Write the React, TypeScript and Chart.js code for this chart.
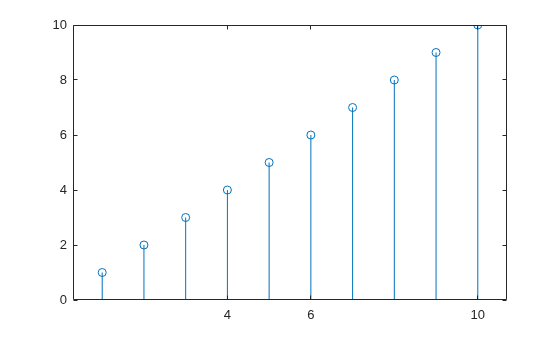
import { useEffect, useRef } from "react";
import { Chart, registerables } from "chart.js";

Chart.register(...registerables);

const xValues = [1, 2, 3, 4, 5, 6, 7, 8, 9, 10];
const yValues = [1, 2, 3, 4, 5, 6, 7, 8, 9, 10];
const xTickValues = [4, 6, 10];
const yTickValues = [0, 2, 4, 6, 8, 10];
const stemBase = 0;

const BLUE = "#0072BD";
const AXIS = "#262626";

const boxPlugin = {
  id: "boxTicks",
  afterDraw(chart: any) {
    const { ctx, chartArea } = chart;
    const xs = chart.scales.x;
    const ys = chart.scales.y;
    const L = Math.round(chartArea.left) + 0.5;
    const R = Math.round(chartArea.right) - 0.5;
    const T = Math.round(chartArea.top) + 0.5;
    const B = Math.round(chartArea.bottom) - 0.5;
    const len = 4;
    ctx.save();
    ctx.strokeStyle = AXIS;
    ctx.lineWidth = 1;
    ctx.beginPath();
    ctx.rect(L, T, R - L, B - T);
    for (const v of yTickValues) {
      const y = Math.floor(ys.getPixelForValue(v)) + 0.5;
      ctx.moveTo(L, y);
      ctx.lineTo(L + len, y);
      ctx.moveTo(R, y);
      ctx.lineTo(R - len, y);
    }
    for (const v of xTickValues) {
      const x = Math.floor(xs.getPixelForValue(v)) + 0.5;
      ctx.moveTo(x, B);
      ctx.lineTo(x, B - len);
      ctx.moveTo(x, T);
      ctx.lineTo(x, T + len);
    }
    ctx.stroke();
    ctx.restore();
  },
};

export default function App() {
  const ref = useRef<HTMLCanvasElement | null>(null);
  useEffect(() => {
    document.body.style.margin = "0";
    const canvas = ref.current;
    if (!canvas) return;
    const stemData: any[] = [];
    xValues.forEach((x, i) => {
      stemData.push({ x, y: stemBase });
      stemData.push({ x, y: yValues[i] });
      stemData.push({ x, y: null });
    });
    const chart = new Chart(canvas, {
      type: "scatter",
      data: {
        datasets: [
          {
            data: stemData,
            showLine: true,
            spanGaps: false,
            borderColor: BLUE,
            borderWidth: 1,
            pointRadius: 0,
            pointHoverRadius: 0,
          } as any,
          {
            data: xValues.map((x, i) => ({ x, y: yValues[i] })),
            showLine: false,
            pointStyle: "circle",
            pointRadius: 4,
            pointBorderWidth: 1,
            pointBorderColor: BLUE,
            pointBackgroundColor: "rgba(0,0,0,0)",
          } as any,
        ],
      },
      options: {
        animation: false,
        responsive: false,
        devicePixelRatio: 1,
        layout: { padding: { top: 25, right: 53, left: 0, bottom: 0 } },
        plugins: { legend: { display: false }, tooltip: { enabled: false } },
        font: { family: "'Liberation Sans', Arial, sans-serif", size: 13 },
        scales: {
          x: {
            type: "linear",
            min: 0.3,
            max: 10.7,
            grid: { display: false, drawTicks: false },
            border: { display: false },
            afterBuildTicks: (scale: any) => {
              scale.ticks = xTickValues.map((v) => ({ value: v }));
            },
            afterFit: (scale: any) => {
              scale.height = 37;
            },
            ticks: {
              color: AXIS,
              padding: 8,
              maxRotation: 0,
              autoSkip: false,
              font: { family: "'Liberation Sans', Arial, sans-serif", size: 13 },
              callback: (v: any) => String(v),
            },
          },
          y: {
            type: "linear",
            min: 0,
            max: 10,
            grid: { display: false, drawTicks: false },
            border: { display: false },
            afterBuildTicks: (scale: any) => {
              scale.ticks = yTickValues.map((v) => ({ value: v }));
            },
            afterFit: (scale: any) => {
              scale.width = 73;
            },
            ticks: {
              color: AXIS,
              padding: 6,
              autoSkip: false,
              font: { family: "'Liberation Sans', Arial, sans-serif", size: 13 },
              callback: (v: any) => String(v),
            },
          },
        },
      } as any,
      plugins: [boxPlugin],
    });
    return () => chart.destroy();
  }, []);
  return <canvas ref={ref} width={560} height={337} style={{ display: "block" }} />;
}
